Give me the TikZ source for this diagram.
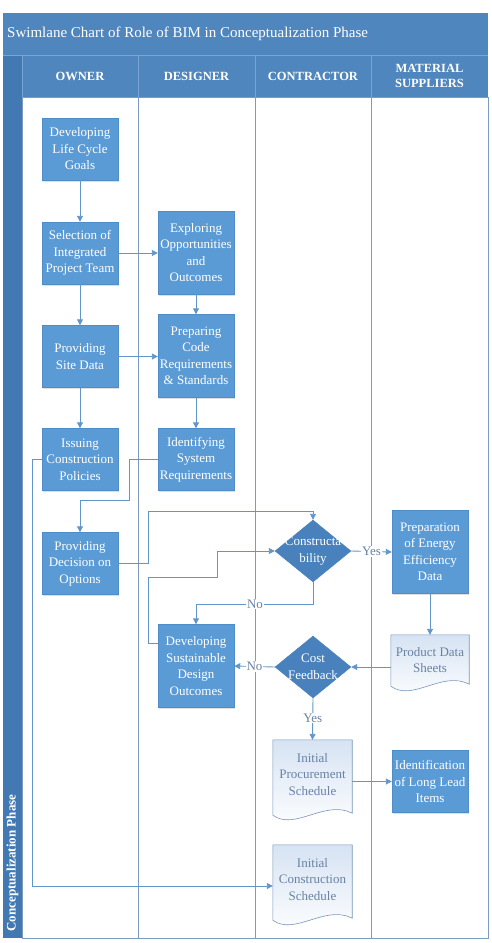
\documentclass[tikz,border=0pt]{standalone}
\usepackage{fontspec}
\setmainfont{Liberation Serif}
\usetikzlibrary{shapes.geometric,arrows.meta,shadows,calc}
\definecolor{hdr}{RGB}{79,134,189}
\definecolor{strip}{RGB}{66,121,178}
\definecolor{hdrline}{RGB}{120,165,210}
\definecolor{laneline}{RGB}{125,155,190}
\definecolor{boxfill}{RGB}{91,155,213}
\definecolor{boxborder}{RGB}{80,140,200}
\definecolor{diafill}{RGB}{72,129,188}
\definecolor{conncol}{RGB}{98,150,202}
\definecolor{doctop}{RGB}{214,227,243}
\definecolor{docborder}{RGB}{120,150,185}
\definecolor{doctext}{RGB}{105,130,165}
\begin{document}
\begin{tikzpicture}[x=1pt,y=-1pt,
  boxnode/.style={draw=boxborder, fill=boxfill, text=white, align=center,
    font=\fontsize{13}{16.5}\selectfont, minimum width=76pt, inner sep=1pt,
    drop shadow={shadow xshift=1pt, shadow yshift=-1.5pt, opacity=0.25}},
  hsmall/.style={minimum height=62pt},
  hbig/.style={minimum height=83pt},
  dianode/.style={shape=diamond, fill=diafill, draw=diafill, minimum width=76pt,
    minimum height=62pt, inner sep=0pt},
  diatext/.style={text=white, align=center, font=\fontsize{13}{16.5}\selectfont, inner sep=0pt},
  docbox/.style={inner sep=0pt, minimum width=79pt},
  docpath/.style={draw=docborder, line width=0.6pt, top color=doctop, bottom color=white},
  doctxt/.style={text=doctext, align=center, font=\fontsize{13}{16.5}\selectfont, inner sep=0pt},
  conn/.style={draw=conncol, line width=0.9pt, -{Triangle[length=6pt,width=6pt]}},
  lbl/.style={fill=white, text=doctext, font=\fontsize{13}{14}\selectfont, inner sep=1pt},
  hdrtxt/.style={text=white, align=center, font=\bfseries\fontsize{12.5}{15}\selectfont}
]
\useasboundingbox (0,0) rectangle (491,943);
% frame and bands
\fill[hdr] (3,13) rectangle (488,55);
\fill[hdr] (22,55) rectangle (488,97);
\fill[strip] (3,55) rectangle (22,938);
\draw[hdrline, line width=0.7pt] (3,55) -- (488,55);
\foreach \xx in {22,138,255,371} \draw[hdrline, line width=0.7pt] (\xx,55) -- (\xx,97);
\draw[laneline, line width=0.8pt] (22,97) rectangle (488,938);
\foreach \xx in {138,255,371} \draw[laneline, line width=0.8pt] (\xx,97) -- (\xx,938);
\node[anchor=west, text=white, font=\fontsize{15}{18}\selectfont, inner sep=0pt] (title) at (7,34) {Swimlane Chart of Role of BIM in Conceptualization Phase};
\node[hdrtxt] (howner) at (80,76) {OWNER};
\node[hdrtxt] (hdesigner) at (196.5,76) {DESIGNER};
\node[hdrtxt] (hcontractor) at (313,76) {CONTRACTOR};
\node[hdrtxt] (hsupplier) at (429.5,76) {MATERIAL\\SUPPLIERS};
\node[text=white, rotate=90, font=\bfseries\fontsize{13}{15}\selectfont, inner sep=0pt] (phase) at (12.5,863) {Conceptualization Phase};
% process boxes
\node[boxnode,hsmall] (n1) at (80,149) {Developing\\Life Cycle\\Goals};
\node[boxnode,hsmall] (n2) at (80,253) {Selection of\\Integrated\\Project Team};
\node[boxnode,hbig] (n3) at (196,252.5) {Exploring\\Opportunities\\and\\Outcomes};
\node[boxnode,hbig] (n4) at (196,356) {Preparing\\Code\\Requirements\\\& Standards};
\node[boxnode,hsmall] (n5) at (80,356.5) {Providing\\Site Data};
\node[boxnode,hsmall] (n6) at (80,459.5) {Issuing\\Construction\\Policies};
\node[boxnode,hsmall] (n7) at (196,459.5) {Identifying\\System\\Requirements};
\node[boxnode,hsmall] (n8) at (80,563.5) {Providing\\Decision on\\Options};
\node[boxnode,hbig] (n9) at (430,552) {Preparation\\of Energy\\Efficiency\\Data};
\node[boxnode,hbig] (n10) at (196,666) {Developing\\Sustainable\\Design\\Outcomes};
\node[boxnode,hsmall] (n11) at (430,781.5) {Identification\\of Long Lead\\Items};
% decisions
\node[dianode] (d1) at (313,551) {};
\node[diatext] (d1t) at (313,551) {Constructa\\bility};
\node[dianode] (d2) at (313,667) {};
\node[diatext] (d2t) at (313,667) {Cost\\Feedback};
% documents
\node[docbox, minimum width=78pt, minimum height=51pt] (doc1) at (430,660.5) {};
\node[docbox, minimum height=75pt] (doc2) at (312.5,777.5) {};
\node[docbox, minimum height=75pt] (doc3) at (312.5,882.5) {};
\foreach \dd in {doc1,doc2,doc3}{
  \path[docpath] (\dd.north west) -- (\dd.north east) -- ($(\dd.south east)+(0,-2)$)
    .. controls ($(\dd.south east)+(-27,-16)$) and ($(\dd.south west)+(22,16)$) .. (\dd.south west) -- cycle;
}
\node[doctxt] (doc1t) at (430,660) {Product Data\\Sheets};
\node[doctxt] (doc2t) at (312.5,774.5) {Initial\\Procurement\\Schedule};
\node[doctxt] (doc3t) at (312.5,879.5) {Initial\\Construction\\Schedule};
% waypoints
\coordinate (w1) at (129,500);
\coordinate (w2) at (32,886);
\coordinate (w3) at (148,511);
\coordinate (w4) at (148,577);
\coordinate (w5) at (217,551);
\coordinate (w6) at (313,604);
% connectors
\draw[conn] (n1) -- (n2);
\draw[conn] (n2.east) -- (n2.east -| n3.west);
\draw[conn] (n2) -- (n5);
\draw[conn] (n3) -- (n4);
\draw[conn] (n5.east) -- (n5.east -| n4.west);
\draw[conn] (n5) -- (n6);
\draw[conn] (n4) -- (n7);
\draw[conn] (n7.west) -| (w1) -| (n8.north);
\draw[conn] (n6.west) -| (w2) -- (w2 -| doc3.west);
\draw[conn] (n8.east) -| (w3) -| (d1.north);
\draw[conn] ([yshift=23pt]n10.west) -| (w4) -| (w5) -- (d1.west);
\draw[conn] (d1.east) -- (n9.west) node[lbl, pos=0.5] {Yes};
\draw[conn] (d1.south) -- (w6) -| (n10.north);
\node[lbl] (no1) at (255,604) {No};
\draw[conn] (n9) -- (doc1);
\draw[conn] (doc1.west |- d2.east) -- (d2.east);
\draw[conn] (d2.west) -- (n10.east) node[lbl, pos=0.5] {No};
\draw[conn] (d2.south) -- (doc2.north) node[lbl, pos=0.48] {Yes};
\draw[conn] (doc2.east |- n11.west) -- (n11.west);
\end{tikzpicture}
\end{document}
